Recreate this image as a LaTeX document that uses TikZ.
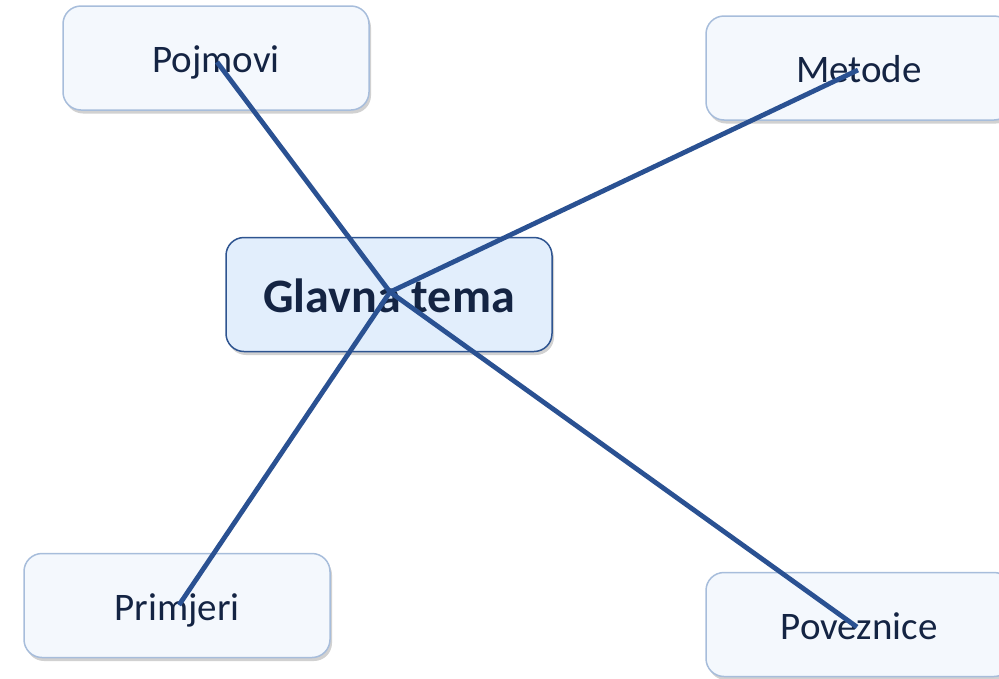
\documentclass[tikz,border=0pt]{standalone}
\usepackage{fontspec}
\setmainfont{Carlito}
\usetikzlibrary{shadows}
\definecolor{subfill}{HTML}{F4F8FD}
\definecolor{subdraw}{HTML}{A7BDDB}
\definecolor{mainfill}{HTML}{E2EEFC}
\definecolor{maindraw}{HTML}{2E5490}
\definecolor{txt}{HTML}{142443}
\definecolor{link}{HTML}{2A5192}
\tikzset{
  subbox/.style={draw=subdraw, line width=1.5pt, fill=subfill, rounded corners=18pt,
    minimum width=306pt, minimum height=104pt, text=txt, inner sep=0pt,
    text height=29pt, text depth=0pt,
    font=\fontsize{39}{45}\selectfont,
    drop shadow={shadow xshift=2pt, shadow yshift=-3.5pt, opacity=0.3, fill=black!60}},
  mainbox/.style={draw=maindraw, line width=1.5pt, fill=mainfill, rounded corners=18pt,
    minimum width=326pt, minimum height=114pt, text=txt, inner sep=0pt,
    text height=35pt, text depth=0pt,
    font=\fontsize{48}{55}\selectfont\bfseries,
    drop shadow={shadow xshift=2pt, shadow yshift=-3.5pt, opacity=0.3, fill=black!60}},
  linkline/.style={draw=link, line width=4.8pt}
}
\begin{document}
\begin{tikzpicture}[x=1pt,y=-1pt]
\useasboundingbox (0,0) rectangle (999,678);
\node[subbox] (poj) at (216,58) {Pojmovi};
\node[subbox] (met) at (859,68) {Metode};
\node[subbox] (pri) at (177,605.5) {Primjeri};
\node[subbox] (pov) at (859,624.5) {Poveznice};
\node[mainbox] (main) at (389,294.5) {Glavna tema};
\coordinate (hub) at (390,292);
\coordinate (pojE) at (217,62);
\coordinate (metE) at (858,70);
\coordinate (priE) at (179,605);
\coordinate (povE) at (857,627);
\draw[linkline] (hub) -- (pojE);
\draw[linkline] (hub) -- (metE);
\draw[linkline] (hub) -- (priE);
\draw[linkline] (hub) -- (povE);
\end{tikzpicture}
\end{document}
